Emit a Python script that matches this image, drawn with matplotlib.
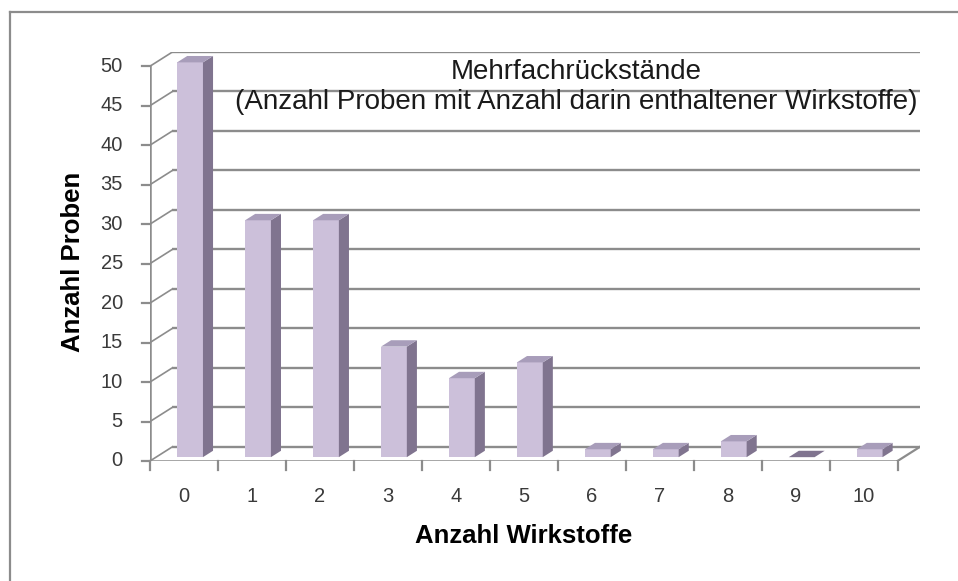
import matplotlib
matplotlib.use("Agg")
import matplotlib.pyplot as plt
from matplotlib.patches import Polygon, Rectangle

plt.rcParams['font.family'] = ['Liberation Sans', 'DejaVu Sans']

# data
categories = [0, 1, 2, 3, 4, 5, 6, 7, 8, 9, 10]
samples = [50, 30, 30, 14, 10, 12, 1, 1, 2, 0, 1]
y_ticks = [0, 5, 10, 15, 20, 25, 30, 35, 40, 45, 50]
title_lines = ["Mehrfachrückstände",
               "(Anzahl Proben mit Anzahl darin enthaltener Wirkstoffe)"]

W, H = 958, 581
fig = plt.figure(figsize=(W / 100, H / 100), dpi=100)

# outer frame (only top and left visible)
fig.add_artist(plt.Line2D([10 / W, 1], [1 - 12 / H, 1 - 12 / H], color='#8c8c8c', lw=1.6))
fig.add_artist(plt.Line2D([10 / W, 10 / W], [0, 1 - 12 / H], color='#8c8c8c', lw=1.6))

# 3d depth of the floor, in data units
dx = 0.33   # categories
dy = 1.8    # value units
x0, x1 = -0.5, len(categories) - 0.5
ymax = 50

left_px, right_px = 150, 920
bot_px, top_px = 461, 52
ax = fig.add_axes([left_px / W, 1 - bot_px / H, (right_px - left_px) / W, (bot_px - top_px) / H])
ax.set_xlim(x0, x1 + dx)
ax.set_ylim(0, ymax + dy)
ax.axis('off')

grid_c = '#8c8c8c'
# back wall gridlines and the diagonal side lines
for v in y_ticks:
    ax.plot([x0 + dx, x1 + dx], [v + dy, v + dy], color=grid_c, lw=1.7, zorder=1,
            solid_capstyle='butt')
    ax.plot([x0, x0 + dx], [v, v + dy], color=grid_c, lw=1.2, zorder=1)
    # y ticks
    ax.plot([x0 - 0.12, x0], [v, v], color=grid_c, lw=1.6, zorder=3, clip_on=False)
    ax.text(x0 - 0.4, v, str(v), ha='right', va='center', fontsize=14.5,
            color='#3a3a3a')

# y axis line
ax.plot([x0, x0], [0, ymax], color=grid_c, lw=1.8, zorder=3)
# floor edges
ax.plot([x0, x1], [0, 0], color=grid_c, lw=1.8, zorder=3)
ax.plot([x1, x1 + dx], [0, dy], color=grid_c, lw=1.6, zorder=3)

# x ticks
for i in range(len(categories) + 1):
    ax.plot([x0 + i, x0 + i], [0, -1.1], color=grid_c, lw=1.6, clip_on=False, zorder=3)
for c in categories:
    ax.text(c, -4.5, str(c), ha='center', va='center', fontsize=14.5, color='#3a3a3a')

# bars
front_c = '#ccc0da'
side_c = '#80748f'
top_c = '#a89dba'
bw = 0.38
d0 = 0.27   # front face depth fraction
d1 = 0.45   # bar depth fraction
for c, v in zip(categories, samples):
    bx = c - bw / 2 + d0 * dx
    by = d0 * dy
    ddx, ddy = d1 * dx, d1 * dy
    if v > 0:
        ax.add_patch(Rectangle((bx, by), bw, v, facecolor=front_c, edgecolor='none', zorder=4))
        ax.add_patch(Polygon([(bx + bw, by), (bx + bw + ddx, by + ddy),
                              (bx + bw + ddx, by + v + ddy), (bx + bw, by + v)],
                             closed=True, facecolor=side_c, edgecolor='none', zorder=4))
    ax.add_patch(Polygon([(bx, by + v), (bx + ddx, by + v + ddy),
                          (bx + bw + ddx, by + v + ddy), (bx + bw, by + v)],
                         closed=True, facecolor=top_c if v > 0 else side_c,
                         edgecolor='none', zorder=4))

# titles inside the plot
fig.text(576 / W, 1 - 72 / H, title_lines[0], ha='center', va='center',
         fontsize=20, color='#1a1a1a')
fig.text(576 / W, 1 - 102 / H, title_lines[1], ha='center', va='center',
         fontsize=20, color='#1a1a1a')

fig.text(73 / W, 1 - 262 / H, "Anzahl Proben", rotation=90, ha='center', va='center',
         fontsize=18.5, fontweight='bold', color='black')
fig.text(524 / W, 1 - 536 / H, "Anzahl Wirkstoffe", ha='center', va='center',
         fontsize=18.5, fontweight='bold', color='black')

fig.savefig("out.png", dpi=100, facecolor='white')
